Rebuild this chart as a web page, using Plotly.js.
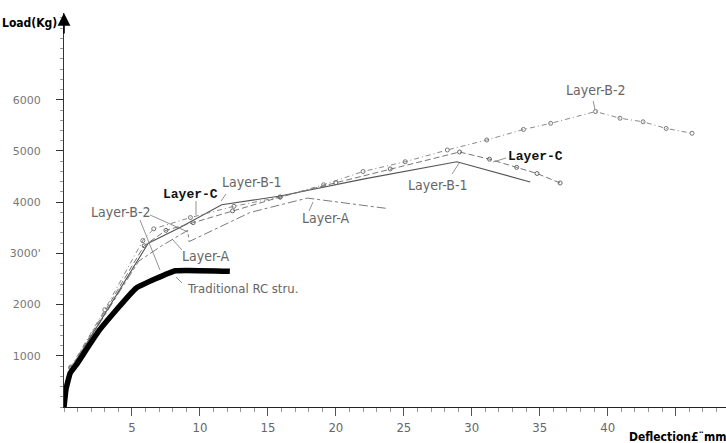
<!DOCTYPE html>
<html><head><meta charset="utf-8">
<script src="https://cdn.plot.ly/plotly-3.0.1.min.js"></script>
<style>html,body{margin:0;padding:0;background:#fff}#chart{width:726px;height:443px}</style>
</head><body><div id="chart"></div>
<script>
// ---- data (Deflection mm, Load kg) ----
const tradX = [0, 0.15, 0.45, 0.9, 2.6, 5.3, 8.2, 12.2];
const tradY = [0, 350, 660, 820, 1500, 2320, 2660, 2650];

const layerAX = [0, 0.45, 5.5, 7.2, 9.1, 9.2, 13.7, 17.9, 23.7];
const layerAY = [0, 720, 2850, 3150, 3450, 3230, 3800, 4080, 3880];

const layerB1X = [0, 0.5, 6.2, 8.5, 11.6, 15.9, 22, 28.9, 34.3];
const layerB1Y = [0, 740, 3200, 3500, 3950, 4120, 4450, 4790, 4395];

const layerB2X = [0, 0.5, 3, 5.8, 6.6, 9.3, 12.5, 15.9, 19.1, 22, 25.1, 28.2, 31.1, 33.8, 35.8, 39.1, 40.9, 42.6, 44.3, 46.2];
const layerB2Y = [0, 780, 1900, 3250, 3480, 3700, 3920, 4100, 4340, 4600, 4790, 5020, 5215, 5420, 5540, 5770, 5640, 5570, 5440, 5346];

const layerCX = [0, 0.5, 5.9, 7.5, 9.5, 12.4, 15.9, 20, 24, 29.1, 31.3, 33.3, 34.8, 36.5];
const layerCY = [0, 760, 3150, 3450, 3600, 3830, 4100, 4380, 4650, 4980, 4840, 4680, 4560, 4375];

const xTickVals = [5, 10, 15, 20, 25, 30, 35, 40, 45];
const xTickText = ['5', '10', '15', '20', '25', '30', '35', '40', ''];
const yTickVals = [1000, 2000, 3000, 4000, 5000, 6000];
const yTickText = ['1000', '2000', '3000\'', '4000', '5000', '6000'];

const narrow = 'Liberation Sans Narrow, DejaVu Sans Condensed, Arial Narrow, sans-serif';
const mono = 'Liberation Mono, DejaVu Sans Mono, monospace';

const traces = [
  {x: layerAX, y: layerAY, mode: 'lines', name: 'Layer-A',
   line: {color: '#7a7a7a', width: 1, dash: 'dashdot'}},
  {x: layerB1X, y: layerB1Y, mode: 'lines', name: 'Layer-B-1',
   line: {color: '#555', width: 1.1}},
  {x: layerB2X, y: layerB2Y, mode: 'lines+markers', name: 'Layer-B-2',
   line: {color: '#8a8a8a', width: 1, dash: '1px,3px,5px,3px'},
   marker: {symbol: 'circle-open', size: 4, color: '#777', line: {width: 1}}},
  {x: layerCX, y: layerCY, mode: 'lines+markers', name: 'Layer-C',
   line: {color: '#777', width: 1, dash: '6px,3px'},
   marker: {symbol: 'circle-open', size: 4, color: '#666', line: {width: 1}}},
  {x: tradX, y: tradY, mode: 'lines', name: 'Traditional RC',
   line: {color: '#000', width: 5.5, shape: 'spline', smoothing: 0.3}}
];

function lbl(text, x, y, opt) {
  return Object.assign({text: text, x: x, y: y, xref: 'x', yref: 'y', showarrow: false,
    font: {family: narrow, size: 14, color: '#666'}}, opt || {});
}
const boldC = {font: {family: mono, size: 13, color: '#111', weight: 'bold'}};
const annotations = [
  lbl('Layer-B-2', 39.07, 6191),
  lbl('<b>Layer-C</b>', 34.66, 4883, boldC),
  lbl('Layer-B-1', 27.45, 4336),
  lbl('Layer-A', 19.21, 3691),
  lbl('Layer-B-1', 13.76, 4395),
  lbl('<b>Layer-C</b>', 9.27, 4141, boldC),
  lbl('Layer-B-2', 4.19, 3809),
  lbl('Layer-A', 10.38, 2949),
  lbl('Traditional RC stru.', 13.10, 2324, {font: {family: narrow, size: 13, color: '#666'}}),
  // axis titles
  {text: '<b>Load(Kg)</b>', xref: 'paper', yref: 'paper', x: -0.052, y: 0.975, showarrow: false,
   xanchor: 'center', yanchor: 'middle', font: {family: narrow, size: 12, color: '#000'}},
  {text: '<b>Deflection£¨mm</b>', xref: 'paper', yref: 'paper', x: 1.003, y: -0.075, showarrow: false,
   xanchor: 'right', yanchor: 'middle', font: {family: narrow, size: 12, color: '#000'}},
  // y-axis arrow head
  {x: 0, y: 1, xref: 'x', yref: 'paper', ax: 0, ay: 22, text: '', showarrow: true,
   arrowhead: 2, arrowsize: 1.6, arrowwidth: 1.6, arrowcolor: '#000'}
];

function seg(x0, y0, x1, y1) {
  return {type: 'line', xref: 'x', yref: 'y', x0: x0, y0: y0, x1: x1, y1: y1,
    line: {color: '#777', width: 0.8}};
}
const shapes = [
  seg(38.93, 5977, 39.07, 5801),
  seg(32.52, 4863, 31.57, 4785),
  seg(28.55, 4551, 29.07, 4766),
  seg(18.03, 3828, 18.32, 4004),
  seg(11.92, 4160, 11.55, 4023),
  seg(9.71, 4023, 9.71, 3750),
  seg(6.33, 3750, 9.12, 3418),
  seg(5.59, 3652, 7.06, 2676),
  seg(8.68, 3066, 7.95, 3281),
  seg(8.68, 2422, 8.24, 2539)
];

const layout = {
  width: 726, height: 443,
  margin: {l: 64, r: 0, t: 13, b: 36, pad: 0},
  paper_bgcolor: '#fff', plot_bgcolor: '#fff',
  showlegend: false,
  xaxis: {range: [0, 48.7], showgrid: false, zeroline: false, showline: true,
    linecolor: '#222', linewidth: 1, ticks: 'outside', ticklen: 8, tickcolor: '#555', tickwidth: 1,
    tickvals: xTickVals, ticktext: xTickText,
    tickfont: {family: narrow, size: 13, color: '#666'},
    minor: {dtick: 1, ticklen: 4, tickcolor: '#999', ticks: 'outside'}},
  yaxis: {range: [0, 7695], showgrid: false, zeroline: false, showline: true,
    linecolor: '#333', linewidth: 1, ticks: 'outside', ticklen: 7, tickcolor: '#333', tickwidth: 1,
    tickvals: yTickVals, ticktext: yTickText, ticklabelstandoff: 13,
    tickfont: {family: 'DejaVu Sans, sans-serif', size: 11, color: '#777'},
    minor: {dtick: 200, ticklen: 3, tickcolor: '#999', ticks: 'outside'}},
  annotations: annotations,
  shapes: shapes
};

Plotly.newPlot('chart', traces, layout, {displayModeBar: false, staticPlot: true});
</script></body></html>
